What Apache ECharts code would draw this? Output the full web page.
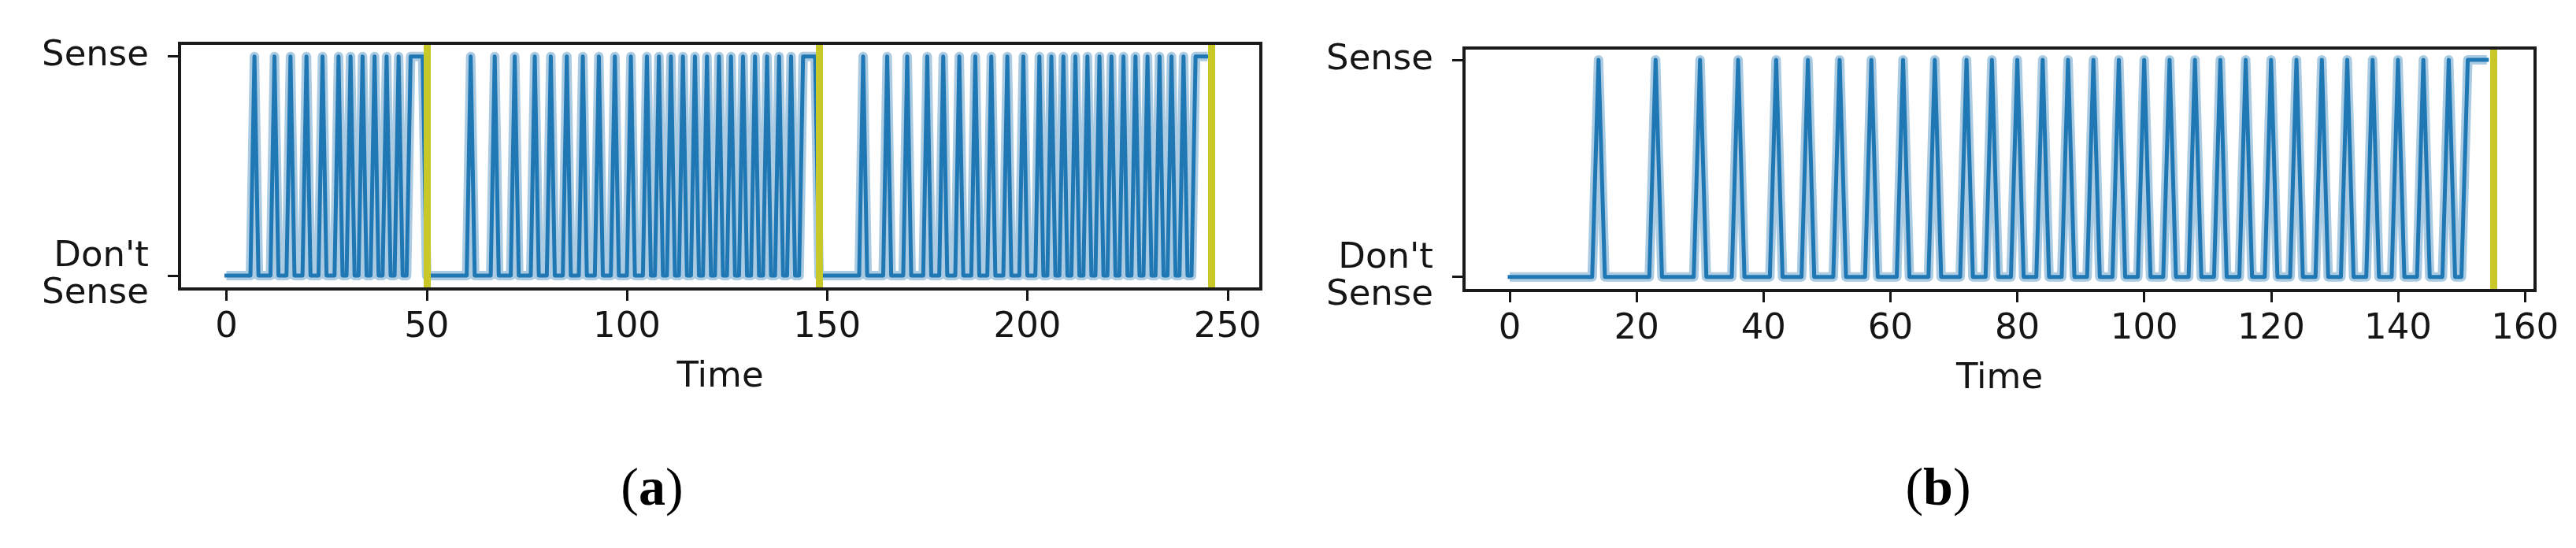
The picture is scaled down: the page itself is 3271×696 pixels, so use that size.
<!DOCTYPE html>
<html><head><meta charset="utf-8">
<script src="https://cdn.jsdelivr.net/npm/echarts@6/dist/echarts.min.js"></script>
<style>html,body{margin:0;padding:0;background:#fff;} #c{width:3271px;height:696px;}</style>
</head><body><div id="c"></div>
<script>
// ---- data ----
// time steps at which the state is "Sense" (all other steps are "Don't Sense")
const senseTimesA = [7,12,16,20,24,28,31,34,37,40,43,46,47,48,49,
  61,67,72,77,81,85,89,93,97,101,105,108,111,114,117,120,123,126,129,132,135,138,141,144,145,146,147,
  159,165,170,175,179,183,187,191,195,199,203,206,209,212,215,218,221,224,227,230,233,236,239,242,243,244,245];
const lastTimeA = 245;
const resetTimesA = [50, 148, 246];

const senseTimesB = [14,23,30,36,42,47,52,57,62,67,72,76,80,84,88,92,96,100,104,108,112,116,120,124,128,132,136,140,144,148,151,152,153,154];
const lastTimeB = 154;
const resetTimesB = [155];

const xTicksA = [0, 50, 100, 150, 200, 250];
const xTicksB = [0, 20, 40, 60, 80, 100, 120, 140, 160];
const yTickValues = [0, 1];
const yTickLabels = ["Don't\nSense", "Sense"];
const panelLetters = ['a', 'b'];
const xAxisTitle = 'Time';

function buildSeries(senseTimes, last) {
  const s = new Set(senseTimes);
  const out = [];
  for (let t = 0; t <= last; t++) out.push([t, s.has(t) ? 1 : 0]);
  return out;
}
const dataA = buildSeries(senseTimesA, lastTimeA);
const dataB = buildSeries(senseTimesB, lastTimeB);

const FONT = 'DejaVu Sans';
const INK = '#151515';
const BLUE = '#1f77b4';
const OLIVE = '#c8c828';

function xAxisCfg(idx, min, max, ticks) {
  return {
    type: 'value', gridIndex: idx, min: min, max: max, position: 'bottom',
    name: xAxisTitle, nameLocation: 'middle', nameGap: 90,
    nameTextStyle: {fontFamily: FONT, fontSize: 45, color: INK},
    axisLine: {show: false, onZero: false},
    splitLine: {show: false},
    axisTick: {show: true, inside: false, length: 15, customValues: ticks, lineStyle: {color: INK, width: 3}},
    axisLabel: {show: true, margin: 27, customValues: ticks, fontFamily: FONT, fontSize: 45, color: INK}
  };
}
function yAxisCfg(idx, min, max) {
  return {
    type: 'value', gridIndex: idx, min: min, max: max, position: 'left',
    axisLine: {show: false, onZero: false},
    splitLine: {show: false},
    axisTick: {show: true, inside: false, length: 15, customValues: yTickValues, lineStyle: {color: INK, width: 3}},
    axisLabel: {show: true, margin: 39, customValues: yTickValues, fontFamily: FONT, fontSize: 45, color: INK,
      lineHeight: 47,
      formatter: v => yTickLabels[yTickValues.indexOf(v)]}
  };
}
function seriesPair(idx, data, resets) {
  return [
    {type: 'line', xAxisIndex: idx, yAxisIndex: idx, data: data, showSymbol: false, animation: false, z: 2,
     lineStyle: {color: 'rgba(31,119,180,0.38)', width: 12, join: 'round', cap: 'butt'}, silent: true},
    {type: 'line', xAxisIndex: idx, yAxisIndex: idx, data: data, showSymbol: false, animation: false, z: 3,
     lineStyle: {color: BLUE, width: 5, join: 'round', cap: 'square'}, silent: true,
     markLine: {silent: true, symbol: 'none', animation: false, label: {show: false},
       lineStyle: {color: OLIVE, width: 9, type: 'solid', opacity: 1},
       emphasis: {disabled: true},
       data: resets.map(r => ({xAxis: r}))}}
  ];
}

const chart = echarts.init(document.getElementById('c'), null, {renderer: 'canvas'});
chart.setOption({
  backgroundColor: '#fff',
  animation: false,
  grid: [
    {left: 228, top: 55, width: 1373, height: 312, show: true, borderColor: '#1a1a1a', borderWidth: 4, backgroundColor: 'transparent', z: 10},
    {left: 1859, top: 61, width: 1360, height: 308, show: true, borderColor: '#1a1a1a', borderWidth: 4, backgroundColor: 'transparent', z: 10}
  ],
  xAxis: [xAxisCfg(0, -11.7, 258.3, xTicksA), xAxisCfg(1, -7.2, 161.6, xTicksB)],
  yAxis: [yAxisCfg(0, -0.061, 1.060), yAxisCfg(1, -0.063, 1.054)],
  series: [].concat(seriesPair(0, dataA, resetTimesA), seriesPair(1, dataB, resetTimesB)),
  graphic: [
    {type: 'text', x: 828, y: 623, style: {text: '({b|' + panelLetters[0] + '})', fontSize: 68, fontFamily: 'Liberation Serif', fill: '#000', align: 'center', verticalAlign: 'middle',
      rich: {b: {fontSize: 68, fontFamily: 'Liberation Serif', fontWeight: 'bold', fill: '#000'}}}},
    {type: 'text', x: 2461, y: 623, style: {text: '({b|' + panelLetters[1] + '})', fontSize: 68, fontFamily: 'Liberation Serif', fill: '#000', align: 'center', verticalAlign: 'middle',
      rich: {b: {fontSize: 68, fontFamily: 'Liberation Serif', fontWeight: 'bold', fill: '#000'}}}}
  ]
});
</script>
</body></html>
